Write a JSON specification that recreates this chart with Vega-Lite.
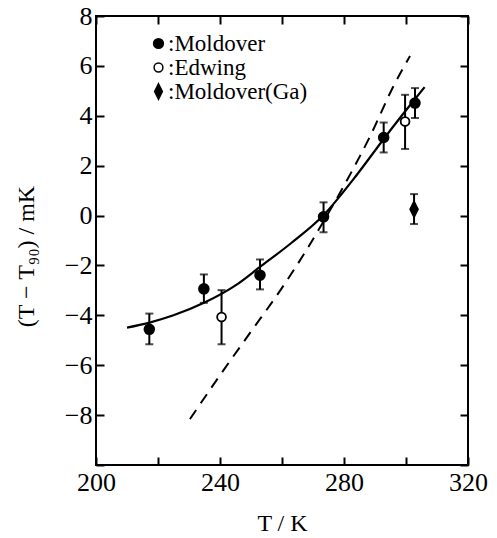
{
  "$schema": "https://vega.github.io/schema/vega-lite/v6.json",
  "width": 372,
  "height": 449,
  "autosize": {"type": "none"},
  "padding": {"left": 96, "top": 16, "right": 29, "bottom": 73},
  "background": "white",
  "config": {
    "view": {"stroke": "black", "strokeWidth": 2},
    "font": "Liberation Serif",
    "axis": {
      "domain": false,
      "grid": false,
      "tickColor": "black",
      "tickWidth": 2,
      "tickSize": -8,
      "labelFlush": false,
      "labelColor": "black",
      "labelFont": "Liberation Serif",
      "labelFontSize": 26,
      "titleFont": "Liberation Serif",
      "titleFontSize": 24,
      "titleFontWeight": "normal",
      "titleColor": "black"
    },
    "legend": {
      "orient": "none",
      "legendX": 51,
      "legendY": 16,
      "padding": 0,
      "labelFont": "Liberation Serif",
      "labelFontSize": 23,
      "labelColor": "black",
      "labelOffset": -2,
      "rowPadding": 0,
      "symbolStrokeColor": "black",
      "symbolStrokeWidth": 1.5
    }
  },
  "datasets": {
    "obs": [
      {"T": 217.2, "d": -4.56, "lo": -5.16, "hi": -3.93, "series": "Moldover"},
      {"T": 234.8, "d": -2.94, "lo": -3.5, "hi": -2.36, "series": "Moldover"},
      {"T": 252.9, "d": -2.39, "lo": -2.96, "hi": -1.76, "series": "Moldover"},
      {"T": 273.4, "d": -0.05, "lo": -0.67, "hi": 0.53, "series": "Moldover"},
      {"T": 292.8, "d": 3.13, "lo": 2.53, "hi": 3.73, "series": "Moldover"},
      {"T": 302.9, "d": 4.51, "lo": 3.91, "hi": 5.11, "series": "Moldover"},
      {"T": 240.5, "d": -4.07, "lo": -5.16, "hi": -2.99, "series": "Edwing"},
      {"T": 299.7, "d": 3.77, "lo": 2.67, "hi": 4.84, "series": "Edwing"},
      {"T": 302.6, "d": 0.25, "lo": -0.34, "hi": 0.86, "series": "Moldover(Ga)"}
    ],
    "fit": [
      {"T": 210, "d": -4.49},
      {"T": 217, "d": -4.3},
      {"T": 225, "d": -4.0},
      {"T": 235, "d": -3.49},
      {"T": 245, "d": -2.8},
      {"T": 253, "d": -2.05},
      {"T": 263, "d": -1.1},
      {"T": 273.3, "d": 0.0},
      {"T": 283, "d": 1.45},
      {"T": 293, "d": 3.1},
      {"T": 300, "d": 4.22},
      {"T": 306, "d": 5.15}
    ],
    "dash": [
      {"T": 230.3, "d": -8.16},
      {"T": 240, "d": -6.4},
      {"T": 250, "d": -4.65},
      {"T": 260, "d": -2.9},
      {"T": 268, "d": -1.36},
      {"T": 274.5, "d": 0.0},
      {"T": 280, "d": 1.2},
      {"T": 288.5, "d": 3.2},
      {"T": 296, "d": 5.2},
      {"T": 301.3, "d": 6.4}
    ]
  },
  "layer": [
    {
      "mark": {"type": "rule", "color": "black", "strokeWidth": 2},
      "encoding": {"y": {"datum": 0, "type": "quantitative", "axis": null}}
    },
    {
      "data": {"name": "dash"},
      "mark": {"type": "line", "color": "black", "strokeWidth": 2, "strokeDash": [11, 8], "interpolate": "monotone"},
      "encoding": {
        "x": {
          "field": "T", "type": "quantitative",
          "scale": {"domain": [200, 320], "nice": false, "zero": false},
          "axis": {
            "orient": "bottom",
            "values": [200, 220, 240, 260, 280, 300, 320],
            "labelExpr": "datum.value % 40 == 0 ? datum.label : ''",
            "labelPadding": 12,
            "title": "T / K",
            "titlePadding": 16
          }
        },
        "y": {
          "field": "d", "type": "quantitative",
          "scale": {"domain": [-10, 8], "nice": false, "zero": false},
          "axis": {
            "orient": "left",
            "values": [-10, -8, -6, -4, -2, 0, 2, 4, 6, 8],
            "labelExpr": "datum.value == -10 ? '' : datum.label",
            "labelPadding": 12,
            "title": "(T − T₉₀) / mK",
            "titlePadding": 26,
            "titleY": 240
          }
        }
      }
    },
    {
      "data": {"name": "fit"},
      "mark": {"type": "line", "color": "black", "strokeWidth": 2.2, "interpolate": "monotone"},
      "encoding": {
        "x": {"field": "T", "type": "quantitative", "axis": null},
        "y": {"field": "d", "type": "quantitative", "axis": null}
      }
    },
    {
      "data": {"name": "obs"},
      "mark": {"type": "rule", "color": "black", "strokeWidth": 2},
      "encoding": {
        "x": {"field": "T", "type": "quantitative",
          "axis": {"orient": "top", "values": [200, 220, 240, 260, 280, 300, 320], "labels": false, "title": null}},
        "y": {"field": "lo", "type": "quantitative",
          "axis": {"orient": "right", "values": [-10, -8, -6, -4, -2, 0, 2, 4, 6, 8], "labels": false, "title": null}},
        "y2": {"field": "hi"}
      }
    },
    {
      "data": {"name": "obs"},
      "mark": {"type": "tick", "orient": "horizontal", "color": "black", "size": 8, "thickness": 2},
      "encoding": {
        "x": {"field": "T", "type": "quantitative", "axis": null},
        "y": {"field": "lo", "type": "quantitative", "axis": null}
      }
    },
    {
      "data": {"name": "obs"},
      "mark": {"type": "tick", "orient": "horizontal", "color": "black", "size": 8, "thickness": 2},
      "encoding": {
        "x": {"field": "T", "type": "quantitative", "axis": null},
        "y": {"field": "hi", "type": "quantitative", "axis": null}
      }
    },
    {
      "data": {"name": "obs"},
      "mark": {"type": "point", "filled": true, "strokeWidth": 1.8, "opacity": 1},
      "encoding": {
        "x": {"field": "T", "type": "quantitative", "axis": null},
        "y": {"field": "d", "type": "quantitative", "axis": null},
        "shape": {
          "field": "series", "type": "nominal",
          "scale": {"domain": ["Moldover", "Edwing", "Moldover(Ga)"], "range": ["circle", "circle", "M0,-2L1,0L0,2L-1,0Z"]},
          "legend": {"title": null, "labelExpr": "':' + datum.label"}
        },
        "fill": {
          "field": "series", "type": "nominal",
          "scale": {"domain": ["Moldover", "Edwing", "Moldover(Ga)"], "range": ["black", "white", "black"]},
          "legend": {"title": null, "labelExpr": "':' + datum.label"}
        },
        "stroke": {
          "field": "series", "type": "nominal",
          "scale": {"domain": ["Moldover", "Edwing", "Moldover(Ga)"], "range": ["black", "black", "black"]},
          "legend": {"title": null, "labelExpr": "':' + datum.label"}
        },
        "size": {
          "field": "series", "type": "nominal",
          "scale": {"domain": ["Moldover", "Edwing", "Moldover(Ga)"], "range": [95, 60, 60]},
          "legend": {"title": null, "labelExpr": "':' + datum.label"}
        }
      }
    }
  ],
  "resolve": {"axis": {"x": "independent", "y": "independent"}}
}
